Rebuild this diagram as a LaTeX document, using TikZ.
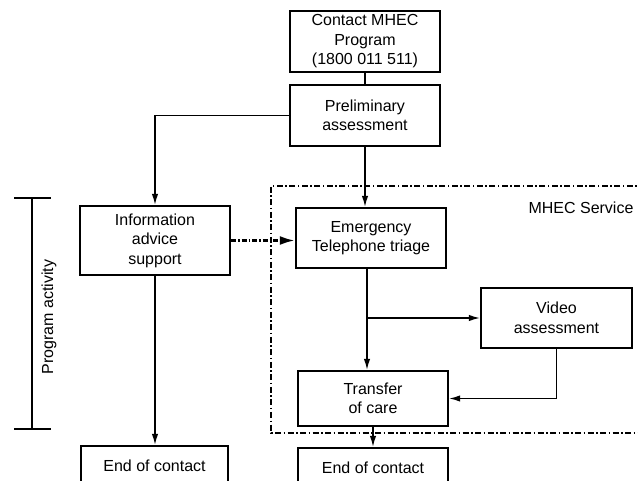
\documentclass[tikz,border=0pt]{standalone}
\usepackage{fontspec}
\setmainfont{Liberation Sans}
\usetikzlibrary{arrows.meta}
\tikzset{
	box/.style={draw, line width=2.4pt, minimum width=150pt, align=center, inner sep=0pt, font=\fontsize{16}{19.5}\selectfont},
	link/.style={line width=1.3pt, -{Latex[length=11pt,width=6.5pt]}},
	dashlink/.style={line width=2.4pt, dash pattern=on 5pt off 2pt on 1.5pt off 2pt, -{Latex[length=15pt,width=9pt]}},
	service/.style={line width=2.4pt, dash pattern=on 6pt off 2.5pt on 1.5pt off 2.5pt},
	label/.style={font=\fontsize{16}{19.5}\selectfont}
}
\begin{document}
\begin{tikzpicture}[x=1pt,y=-1pt]
			\clip (0,0) rectangle (638,481);
			% boxes
			\node[box, minimum height=61pt] (contact) at (365,41.5) {Contact MHEC\\Program\\(1800 011 511)};
			\node[box, minimum height=61pt] (prelim) at (365,115.5) {Preliminary\\assessment};
			\node[box, minimum height=69pt] (info) at (155,240.5) {Information\\advice\\support};
			\node[box, minimum height=60pt] (emerg) at (371,238) {Emergency\\Telephone triage};
			\node[box, minimum height=60pt, minimum width=151pt] (video) at (556.5,318) {Video\\assessment};
			\node[box, minimum height=55pt] (transfer) at (373,398.5) {Transfer\\of care};
			\node[box, minimum height=40pt, minimum width=147pt] (endleft) at (154.5,466) {End of contact};
			\node[box, minimum height=40pt] (endright) at (373,468) {End of contact};
			% MHEC service frame
			\draw[service] (645,186) -- (271,186) -- (271,433) -- (645,433);
			\node[label, anchor=east] (mhec) at (637,208) {MHEC Service};
			% program activity bracket
			\draw[line width=2.4pt] (14,198) -- (51,198) (32,198) -- (32,429) (14,429) -- (51,429);
			\node[label, rotate=90] (activity) at (49,317) {Program activity};
			% connectors
			\draw[line width=2.4pt] (contact.south) -- (prelim.north);
			\draw[link] (prelim.west) -| (info.north);
			\draw[link] (prelim.south) -- (prelim.south |- emerg.north);
			\draw[dashlink] (info.east) -- (info.east -| emerg.west);
			\draw[link] ([xshift=-4pt]emerg.south) -- ([xshift=-4pt]emerg.south |- transfer.north);
			\draw[link] ([xshift=-4pt]emerg.south |- video.west) -- (video.west);
			\draw[link] (video.south) |- (transfer.east);
			\draw[link] (info.south) -- (info.south |- endleft.north);
			\draw[link] (transfer.south) -- (endright.north);
		\end{tikzpicture}
\end{document}
